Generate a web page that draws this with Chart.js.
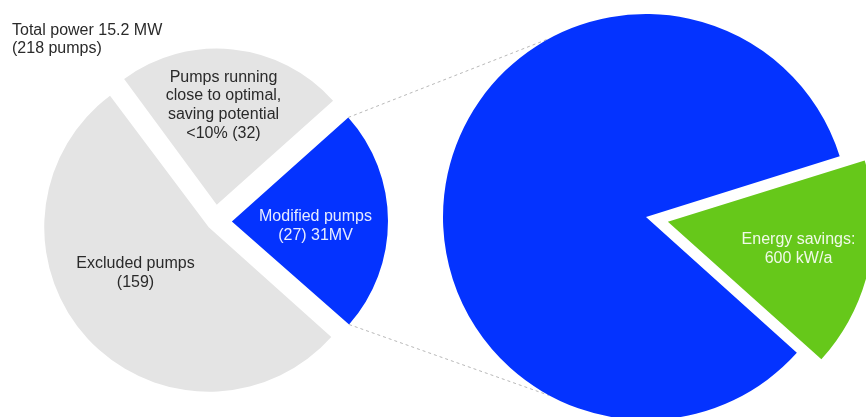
<!DOCTYPE html>
<html>
<head>
<meta charset="utf-8">
<script src="https://cdn.jsdelivr.net/npm/chart.js@4.4.1/dist/chart.umd.min.js"></script>
<style>
  html, body { margin: 0; padding: 0; background: #fff; }
  #wrap { position: relative; width: 866px; height: 417px; overflow: hidden; }
  canvas { position: absolute; left: 0; top: 0; }
</style>
</head>
<body>
<div id="wrap">
  <canvas id="pumpsChart" width="866" height="417"></canvas>
  <canvas id="savingsChart" width="866" height="417"></canvas>
</div>
<script>
// left pie: pump groups, slice shares (%)
const pumpLabels = [
    ['Modified pumps', '(27) 31MV'],
    ['Excluded pumps', '(159)'],
    ['Pumps running', 'close to optimal,', 'saving potential', '<10% (32)']
];
const pumpShares = [23.1, 53.4, 23.5];
const pumpColors = ['#0433ff', '#e4e4e4', '#e4e4e4'];

// right pie: modified pumps split into savings / rest
const savingLabels = [['Energy savings:', '600 kW/a'], []];
const savingShares = [16.5, 83.5];
const savingColors = ['#66c81a', '#0433ff'];

const titleLines = ['Total power 15.2 MW', '(218 pumps)'];

const FONT = '16px "Liberation Sans", Arial, Helvetica, sans-serif';
const LINE_H = 18.8;

// text inside the slices, x = centre of text, y = first baseline
const sliceText = {
    id: 'sliceText',
    afterDatasetsDraw(chart, args, opts) {
        const ctx = chart.ctx;
        ctx.save();
        ctx.font = FONT;
        ctx.textAlign = 'center';
        ctx.textBaseline = 'alphabetic';
        chart.data.labels.forEach((lines, i) => {
            const p = opts.pos[i];
            if (!p) return;
            ctx.fillStyle = opts.colors[i];
            lines.forEach((line, j) => ctx.fillText(line, p[0], p[1] + j * LINE_H));
        });
        if (opts.title) {
            ctx.textAlign = 'left';
            ctx.fillStyle = '#2a2a2a';
            opts.title.forEach((line, j) => ctx.fillText(line, 12, 35 + j * 18));
        }
        ctx.restore();
    }
};

// where an exploded arc really sits (Chart.js translates it by offset)
function arcShift(arc) {
    const c = arc.endAngle - arc.startAngle;
    const half = (arc.startAngle + arc.endAngle) / 2;
    const t = (arc.options.offset || 0) / 4 * (2 - Math.sin(Math.min(Math.PI, c)));
    return { x: arc.x + Math.cos(half) * t, y: arc.y + Math.sin(half) * t };
}

let savingsChart = new Chart(document.getElementById('savingsChart'), {
    type: 'pie',
    data: {
        labels: savingLabels,
        datasets: [{
            data: savingShares,
            backgroundColor: savingColors,
            borderWidth: 0,
            offset: [89.5, 0],
            hoverOffset: 0
        }]
    },
    options: {
        responsive: false,
        animation: false,
        events: [],
        rotation: 72.6,
        radius: 203,
        layout: { padding: { left: 426, right: 0, top: 17, bottom: 0 } },
        plugins: {
            legend: { display: false },
            tooltip: { enabled: false },
            sliceText: { pos: [[798.5, 244]], colors: ['rgba(255,255,255,0.9)'] }
        }
    },
    plugins: [sliceText]
});

// dashed connectors from the blue slice to the big pie
const connectors = {
    id: 'connectors',
    afterDatasetsDraw(chart) {
        const arc = chart.getDatasetMeta(0).data[0];
        const o = arcShift(arc);
        const big = savingsChart.getDatasetMeta(0).data[1];
        const ends = [
            [arc.startAngle, -118.5 * Math.PI / 180],
            [arc.endAngle, 118.5 * Math.PI / 180]
        ];
        const ctx = chart.ctx;
        ctx.save();
        ctx.strokeStyle = '#b8b8b8';
        ctx.lineWidth = 1;
        ctx.setLineDash([3, 3]);
        ends.forEach(([a, b]) => {
            ctx.beginPath();
            ctx.moveTo(o.x + Math.cos(a) * arc.outerRadius, o.y + Math.sin(a) * arc.outerRadius);
            ctx.lineTo(big.x + Math.cos(b) * big.outerRadius, big.y + Math.sin(b) * big.outerRadius);
            ctx.stroke();
        });
        ctx.restore();
    }
};

let pumpsChart = new Chart(document.getElementById('pumpsChart'), {
    type: 'pie',
    data: {
        labels: pumpLabels,
        datasets: [{
            data: pumpShares,
            backgroundColor: pumpColors,
            borderWidth: 0,
            offset: [67.5, 34, 67.7],
            hoverOffset: 0
        }]
    },
    options: {
        responsive: false,
        animation: false,
        events: [],
        rotation: 48.2,
        radius: 156,
        layout: { padding: { left: 0, right: 436, top: 26, bottom: 0 } },
        plugins: {
            legend: { display: false },
            tooltip: { enabled: false },
            sliceText: {
                pos: [[315.5, 221], [135.5, 268], [223.5, 81.5]],
                colors: ['rgba(255,255,255,0.9)', '#2a2a2a', '#2a2a2a'],
                title: titleLines
            }
        }
    },
    plugins: [sliceText, connectors]
});
</script>
</body>
</html>
